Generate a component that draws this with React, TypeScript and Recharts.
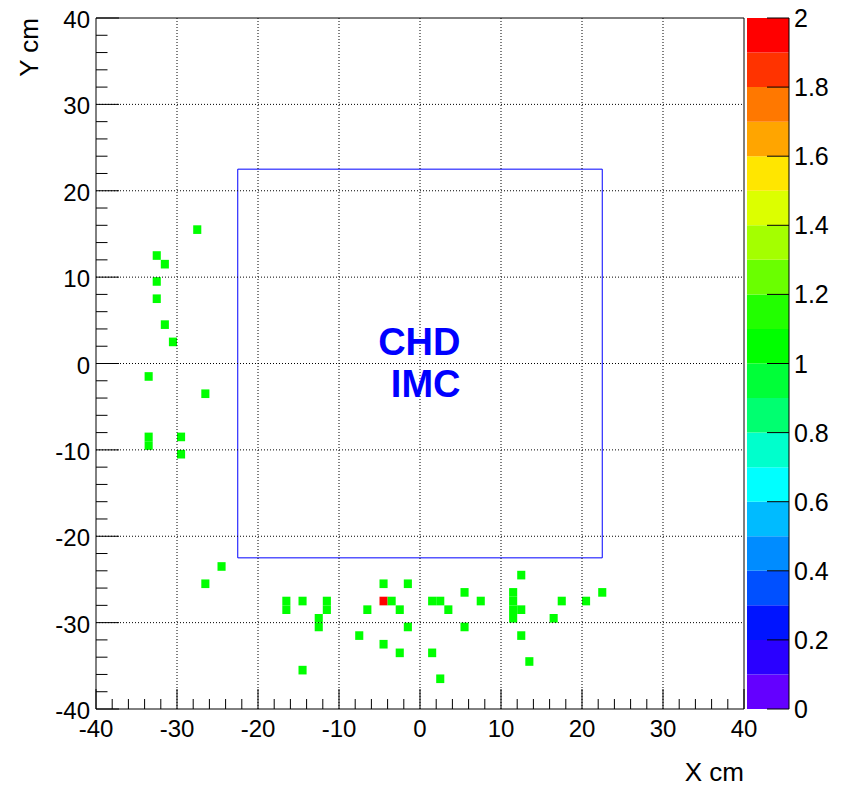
import React from 'react';
import { ScatterChart, Scatter, XAxis, YAxis, ReferenceArea, ReferenceLine, ReferenceDot } from 'recharts';

// Bin centres (cm) and contents of the filled 1x1 cm cells
const cellX = [
  -27.5, -32.5, -31.5, -32.5, -32.5, -31.5, -30.5, -33.5, -26.5, -33.5, -33.5, -29.5, -29.5,
  -24.5, -26.5, -16.5, -16.5, -14.5, -11.5, -11.5, -12.5, -12.5, -6.5, -7.5, -14.5,
  -4.5, -1.5, -4.5, -3.5, -2.5, -1.5, -4.5, -2.5,
  1.5, 2.5, 3.5, 5.5, 5.5, 7.5, 1.5, 2.5,
  11.5, 11.5, 11.5, 11.5, 12.5, 12.5, 12.5, 13.5, 16.5, 17.5, 20.5, 22.5,
];
const cellY = [
  15.5, 12.5, 11.5, 9.5, 7.5, 4.5, 2.5, -1.5, -3.5, -8.5, -9.5, -8.5, -10.5,
  -23.5, -25.5, -27.5, -28.5, -27.5, -27.5, -28.5, -29.5, -30.5, -28.5, -31.5, -35.5,
  -25.5, -25.5, -27.5, -27.5, -28.5, -30.5, -32.5, -33.5,
  -27.5, -27.5, -28.5, -26.5, -30.5, -27.5, -33.5, -36.5,
  -26.5, -27.5, -28.5, -29.5, -28.5, -24.5, -31.5, -34.5, -29.5, -27.5, -27.5, -26.5,
];
const cellValue = [
  1, 1, 1, 1, 1, 1, 1, 1, 1, 1, 1, 1, 1,
  1, 1, 1, 1, 1, 1, 1, 1, 1, 1, 1, 1,
  1, 1, 2, 1, 1, 1, 1, 1,
  1, 1, 1, 1, 1, 1, 1, 1,
  1, 1, 1, 1, 1, 1, 1, 1, 1, 1, 1, 1,
];
const binHalf = 0.5;

const axisTicks = [
  -40, -38, -36, -34, -32, -30, -28, -26, -24, -22, -20, -18, -16, -14, -12, -10, -8, -6, -4, -2,
  0, 2, 4, 6, 8, 10, 12, 14, 16, 18, 20, 22, 24, 26, 28, 30, 32, 34, 36, 38, 40,
];
const gridValues = [-30, -20, -10, 0, 10, 20, 30];
const detectorHalf = 22.5;
const detectorLines = ['CHD', 'IMC'];

// colour palette, from 0 (bottom) to 2 (top), 20 bands
const paletteColors = [
  '#6400ff', '#2a00ff', '#0014ff', '#0050ff', '#008cff', '#00bbff', '#00ffff', '#00ffcc', '#00ff70', '#00ff38',
  '#00ff00', '#22ff00', '#6aff00', '#a4ff00', '#dcff00', '#ffe600', '#ffa500', '#ff7800', '#ff3300', '#ff0000',
];
const paletteEdges = [0, 0.1, 0.2, 0.3, 0.4, 0.5, 0.6, 0.7, 0.8, 0.9, 1, 1.1, 1.2, 1.3, 1.4, 1.5, 1.6, 1.7, 1.8, 1.9, 2];
const paletteTicks = [0, 0.2, 0.4, 0.6, 0.8, 1, 1.2, 1.4, 1.6, 1.8, 2];

const FONT = '"Liberation Sans", Arial, Helvetica, sans-serif';

const colorFor = (v: number) => {
  for (let i = paletteEdges.length - 2; i >= 0; i--) {
    if (v >= paletteEdges[i] - 1e-9) return paletteColors[i];
  }
  return paletteColors[0];
};

const isMajor = (v: number) => Math.abs(v % 10) < 1e-6;

const XTick = (p: any) => {
  const { x, y, payload } = p;
  const major = isMajor(payload.value);
  return (
    <g>
      <line x1={x} x2={x} y1={y} y2={y - (major ? 20 : 10)} stroke="#000" strokeWidth={1} />
      {major && (
        <text x={x} y={y + 28} textAnchor="middle" fontSize={24} fontFamily={FONT} fill="#000">
          {String(payload.value)}
        </text>
      )}
    </g>
  );
};

const YTick = (p: any) => {
  const { x, y, payload } = p;
  const major = isMajor(payload.value);
  return (
    <g>
      <line x1={x} x2={x + (major ? 23 : 11.5)} y1={y} y2={y} stroke="#000" strokeWidth={1} />
      {major && (
        <text x={x - 6} y={y + 10} textAnchor="end" fontSize={24} fontFamily={FONT} fill="#000">
          {String(payload.value)}
        </text>
      )}
    </g>
  );
};

const PaletteTick = (p: any) => {
  const { x, y, payload } = p;
  return (
    <g>
      <line x1={x} x2={x - 22} y1={y} y2={y} stroke="#000" strokeWidth={1} />
      <text x={x + 5} y={y + 9} textAnchor="start" fontSize={25} fontFamily={FONT} fill="#000">
        {String(Math.round(payload.value * 10) / 10)}
      </text>
    </g>
  );
};

const cells = cellX.map((x, i) => ({ x, y: cellY[i], v: cellValue[i] }));

export default function App() {
  return (
    <div style={{ position: 'absolute', left: 0, top: 0, width: 846, height: 785, background: '#fff' }}>
      <div style={{ position: 'absolute', left: 0, top: 0 }}>
        <ScatterChart width={846} height={785} margin={{ top: 18, right: 102, bottom: 46, left: 36 }}>
          <XAxis
            type="number"
            dataKey="x"
            domain={[-40, 40]}
            ticks={axisTicks}
            interval={0}
            tickSize={0}
            tickMargin={0}
            axisLine={false}
            tickLine={false}
            height={30}
            tick={XTick}
            allowDataOverflow
            label={{
              content: (lp: any) => {
                const vb = lp.viewBox;
                return (
                  <text x={vb.x + vb.width} y={vb.y + 72} textAnchor="end" fontSize={26} fontFamily={FONT} fill="#000">
                    X cm
                  </text>
                );
              },
            }}
          />
          <YAxis
            type="number"
            dataKey="y"
            domain={[-40, 40]}
            ticks={axisTicks}
            interval={0}
            tickSize={0}
            tickMargin={0}
            axisLine={false}
            tickLine={false}
            width={60}
            tick={YTick}
            allowDataOverflow
            label={{
              content: (lp: any) => {
                const vb = lp.viewBox;
                const tx = vb.x + 2;
                const ty = vb.y;
                return (
                  <text
                    x={tx}
                    y={ty}
                    transform={`rotate(-90 ${tx} ${ty})`}
                    textAnchor="end"
                    fontSize={26}
                    fontFamily={FONT}
                    fill="#000"
                  >
                    Y cm
                  </text>
                );
              },
            }}
          />
          {gridValues.map((g) => (
            <ReferenceLine key={`gx${g}`} x={g} stroke="#000" strokeWidth={1} strokeDasharray="1 2" />
          ))}
          {gridValues.map((g) => (
            <ReferenceLine key={`gy${g}`} y={g} stroke="#000" strokeWidth={1} strokeDasharray="1 2" />
          ))}
          {cells.map((c, i) => (
            <ReferenceArea
              key={`c${i}`}
              x1={c.x - binHalf}
              x2={c.x + binHalf}
              y1={c.y - binHalf}
              y2={c.y + binHalf}
              fill={colorFor(c.v)}
              fillOpacity={1}
              stroke="none"
            />
          ))}
          <ReferenceArea
            x1={-detectorHalf}
            x2={detectorHalf}
            y1={-detectorHalf}
            y2={detectorHalf}
            fill="none"
            stroke="#0000ff"
            strokeWidth={1}
          />
          <ReferenceDot
            x={5}
            y={0}
            r={0}
            fill="none"
            stroke="none"
            label={{
              content: (lp: any) => {
                const vb = lp.viewBox;
                return (
                  <g>
                    <text x={vb.x} y={vb.y - 8.5} textAnchor="end" fontSize={38} fontWeight="bold" fontFamily={FONT} fill="#0000ff">
                      {detectorLines[0]}
                    </text>
                    <text x={vb.x} y={vb.y + 33.5} textAnchor="end" fontSize={38} fontWeight="bold" fontFamily={FONT} fill="#0000ff">
                      {detectorLines[1]}
                    </text>
                  </g>
                );
              },
            }}
          />
          <ReferenceArea x1={-40} x2={40} y1={-40} y2={40} fill="none" stroke="#000" strokeWidth={1} />
          <Scatter data={cells} dataKey="y" shape={() => <g />} isAnimationActive={false} />
        </ScatterChart>
      </div>
      <div style={{ position: 'absolute', left: 747, top: 0 }}>
        <ScatterChart width={99} height={785} margin={{ top: 18, right: 0, bottom: 76, left: 0 }}>
          <XAxis type="number" dataKey="x" domain={[0, 1]} hide />
          <YAxis
            type="number"
            dataKey="y"
            domain={[0, 2]}
            orientation="right"
            width={57}
            ticks={paletteTicks}
            interval={0}
            tickSize={0}
            tickMargin={0}
            tickLine={false}
            axisLine={{ stroke: '#000' }}
            tick={PaletteTick}
          />
          {paletteColors.map((c, i) => (
            <ReferenceArea
              key={`p${i}`}
              x1={0}
              x2={1}
              y1={paletteEdges[i]}
              y2={paletteEdges[i + 1]}
              fill={c}
              fillOpacity={1}
              stroke="none"
            />
          ))}
          <Scatter data={[{ x: 0, y: 0 }]} shape={() => <g />} isAnimationActive={false} />
        </ScatterChart>
      </div>
    </div>
  );
}
